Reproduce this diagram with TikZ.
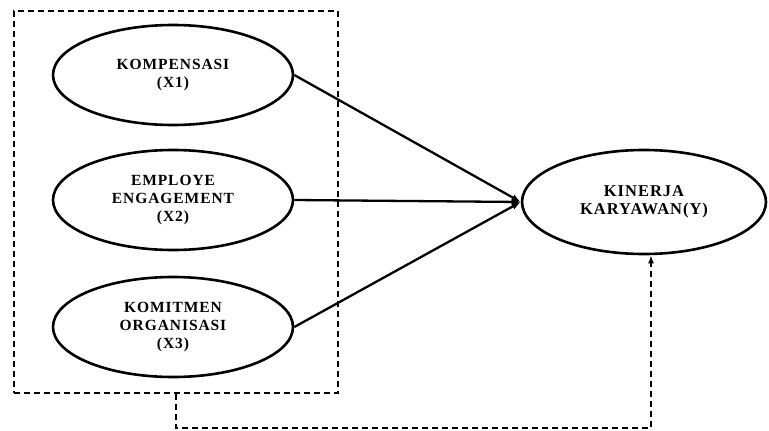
\documentclass[tikz,border=0pt]{standalone}
\usepackage{fontspec}
\setmainfont{Liberation Serif}
\newfontfamily\varfont[LetterSpace=6]{Liberation Serif}
\usetikzlibrary{shapes.geometric,arrows.meta}

\tikzstyle{var}=[ellipse, draw, line width=2.6pt, minimum width=240pt, minimum height=100pt,
  inner sep=0pt, align=center, font=\varfont\bfseries\fontsize{15.5}{18}\selectfont]
\tikzstyle{link}=[line width=2.3pt, -{Latex[length=9pt,width=7pt]}]
\tikzstyle{group}=[line width=1.9pt, dash pattern=on 6pt off 4pt]

\begin{document}
\begin{tikzpicture}[x=1pt,y=-1pt]
    \useasboundingbox (0,0) rectangle (769,431);
    \node[group, draw, minimum width=324pt, minimum height=382pt] (box) at (176,202) {};
    \node[var] (komp) at (173,75) {KOMPENSASI\\(X1)};
    \node[var] (engage) at (173,200) {EMPLOYE\\ENGAGEMENT\\(X2)};
    \node[var] (komit) at (173,327) {KOMITMEN\\ORGANISASI\\(X3)};
    \node[var, minimum width=244pt, minimum height=104pt,
      font=\varfont\bfseries\fontsize{16.5}{18.5}\selectfont] (kinerja) at (644,202) {KINERJA\\KARYAWAN(Y)};
    \path[link]
    (komp.east) edge (kinerja.west)
    (engage.east) edge (kinerja.west)
    (komit.east) edge (kinerja.west)
	;
    \draw[group, -{Latex[length=8pt,width=6pt]}]
    (box.south) -- ++(0,34) -| ([xshift=7pt]kinerja.south);
  \end{tikzpicture}
\end{document}
